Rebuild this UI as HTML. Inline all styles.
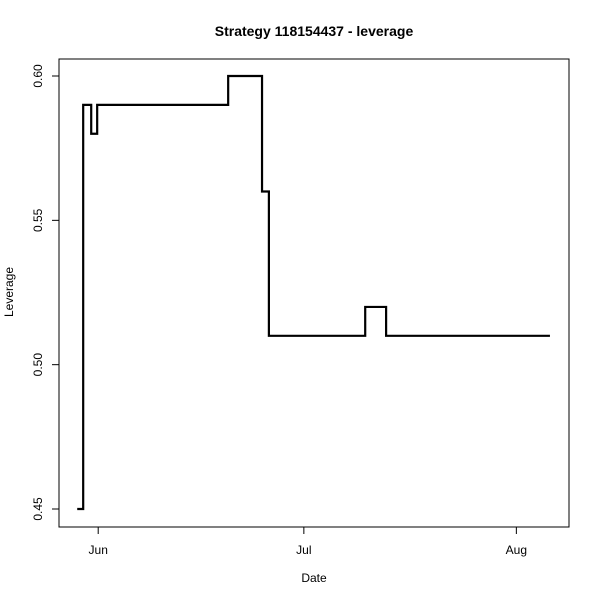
<!DOCTYPE html>
<html><head><meta charset="utf-8"><style>body{margin:0;background:#fff}svg{display:block;font-family:"Liberation Sans",Arial,sans-serif}</style></head>
<body>
<svg id="chart" width="600" height="600">
<rect x="0" y="0" width="600" height="600" fill="#fff"/>
<text x="314" y="36" text-anchor="middle" font-weight="bold" font-size="14">Strategy 118154437 - leverage</text>
<rect x="59" y="59" width="510" height="468" fill="none" stroke="#000" stroke-width="1"/>
<text x="314" y="582" text-anchor="middle" font-size="12">Date</text>
<text transform="translate(13,292) rotate(-90)" text-anchor="middle" font-size="12">Leverage</text>
<g id="axes"></g>
<path id="series" fill="none" stroke="#000" stroke-width="2.2"/>
</svg>
<script>
// days offset from Jun 1 where each value starts
const stepDays = [-3.06, -2.19, -1.02, -0.15, 18.96, 23.9, 24.9, 38.95, 42.0];
const leverageValues = [0.45, 0.59, 0.58, 0.59, 0.60, 0.56, 0.51, 0.52, 0.51];
const endDay = 65.9;
const xTickLabels = ["Jun", "Jul", "Aug"];
const xTickDays = [0, 30, 61];
const yTicks = [0.45, 0.50, 0.55, 0.60];

function xs(d){ return 98.2 + d * 6.855; }
function ys(v){ return 509 - (v - 0.45) / 0.05 * 144.33; }

const ns = "http://www.w3.org/2000/svg";
const axes = document.getElementById('axes');
xTickDays.forEach((d, i) => {
  const l = document.createElementNS(ns, 'line');
  l.setAttribute('x1', xs(d)); l.setAttribute('x2', xs(d));
  l.setAttribute('y1', 527); l.setAttribute('y2', 534);
  l.setAttribute('stroke', '#000');
  
  
  axes.appendChild(l);
  const t = document.createElementNS(ns, 'text');
  t.setAttribute('x', xs(d)); t.setAttribute('y', 554);
  t.setAttribute('text-anchor', 'middle'); t.setAttribute('font-size', '12');
  t.textContent = xTickLabels[i];
  
  
  axes.appendChild(t);
});
yTicks.forEach(v => {
  const y = ys(v);
  const l = document.createElementNS(ns, 'line');
  l.setAttribute('x1', 52); l.setAttribute('x2', 59);
  l.setAttribute('y1', y); l.setAttribute('y2', y);
  l.setAttribute('stroke', '#000');
  
  
  axes.appendChild(l);
  const t = document.createElementNS(ns, 'text');
  t.setAttribute('transform', 'translate(42,' + y + ') rotate(-90)');
  t.setAttribute('text-anchor', 'middle'); t.setAttribute('font-size', '12');
  t.textContent = v.toFixed(2);
  
  
  axes.appendChild(t);
});
let d = '';
for (let i = 0; i < leverageValues.length; i++) {
  const x0 = xs(stepDays[i]);
  const x1 = xs(i + 1 < stepDays.length ? stepDays[i + 1] : endDay);
  const y = ys(leverageValues[i]);
  d += (i === 0 ? 'M' : 'L') + x0 + ',' + y + 'L' + x1 + ',' + y;
}
document.getElementById('series').setAttribute('d', d);
</script>
</body></html>
